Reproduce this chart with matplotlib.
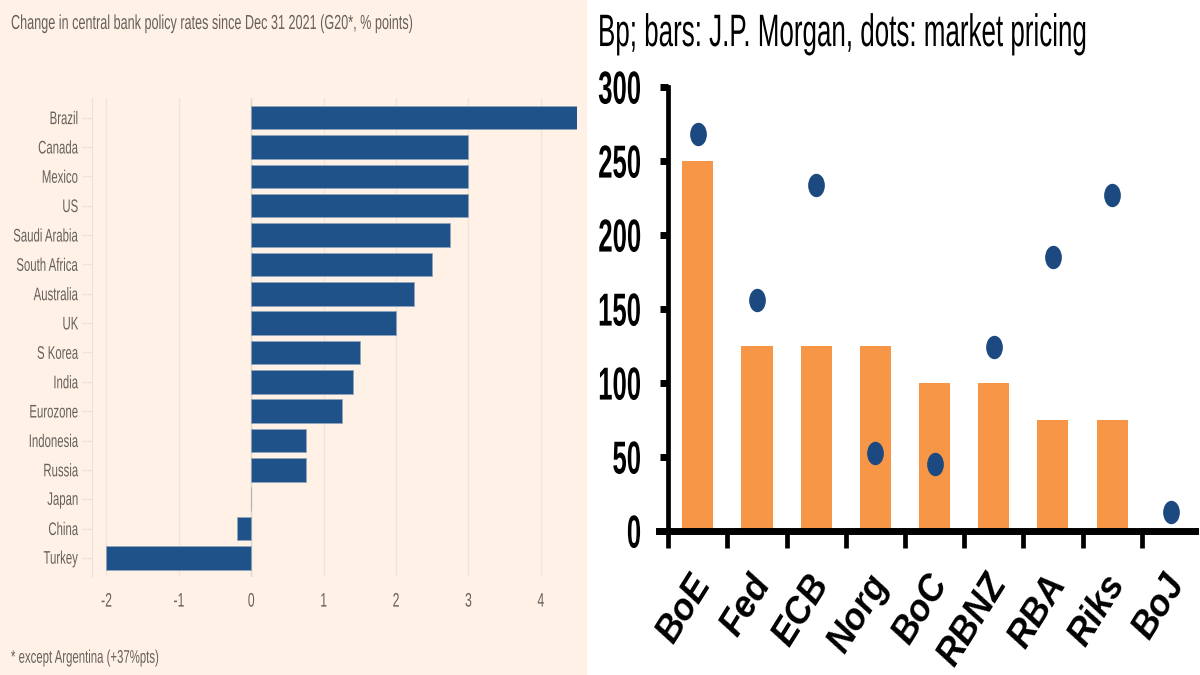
import matplotlib
matplotlib.use('Agg')
import matplotlib.pyplot as plt
from matplotlib.markers import MarkerStyle
from matplotlib.patches import Rectangle
from matplotlib.patheffects import AbstractPathEffect
from matplotlib.transforms import Affine2D, ScaledTranslation

# left panel data
countries = ['Brazil', 'Canada', 'Mexico', 'US', 'Saudi Arabia', 'South Africa', 'Australia', 'UK',
             'S Korea', 'India', 'Eurozone', 'Indonesia', 'Russia', 'Japan', 'China', 'Turkey']
rate_change = [4.5, 3, 3, 3, 2.75, 2.5, 2.25, 2, 1.5, 1.4, 1.25, 0.75, 0.75, 0, -0.2, -2]
left_ticks = [-2, -1, 0, 1, 2, 3, 4]

# right panel data
banks = ['BoE', 'Fed', 'ECB', 'Norg', 'BoC', 'RBNZ', 'RBA', 'Riks', 'BoJ']
jpm_bars = [250, 125, 125, 125, 100, 100, 75, 75, 0]
market_dots = [268, 156, 234, 53, 45, 124, 185, 227, 13]
right_ticks = [0, 50, 100, 150, 200, 250, 300]

W, H = 1200, 675
FONT = 'Liberation Sans'


# the source picture is squashed sideways, so draw the glyphs taller to get the same look
class TallText(AbstractPathEffect):
    def __init__(self, sy):
        super().__init__()
        self.sy = sy

    def draw_path(self, renderer, gc, tpath, affine, rgbFace=None):
        box = tpath.get_extents()
        mid = (box.y0 + box.y1) / 2
        stretch = Affine2D().translate(0, -mid).scale(1, self.sy).translate(0, mid)
        renderer.draw_path(gc, tpath, stretch + affine, rgbFace)


def px_axes(fig, x0, y0, x1, y1):
    return fig.add_axes([x0 / W, 1 - y1 / H, (x1 - x0) / W, (y1 - y0) / H])


fig = plt.figure(figsize=(12, 6.75), dpi=100, facecolor='white')
fig.add_artist(Rectangle((0, 0), 586 / W, 1, transform=fig.transFigure, color='#fff1e5', zorder=0))

# FT chart
ax = px_axes(fig, 92, 98, 577, 577)
ax.patch.set_alpha(0)
ypos = list(range(len(countries)))
ax.barh(ypos, rate_change, height=0.8, color='#1f5288', edgecolor='#8fa6bd', linewidth=0.5, zorder=3)
ax.set_xlim(-2.2, 4.5)
ax.set_ylim(15.65, -0.67)
ax.set_yticks(ypos)
ax.set_yticklabels(countries, family=FONT, fontsize=8.2, color='#66605c')
ax.set_xticks(left_ticks)
ax.set_xticklabels([str(t) for t in left_ticks], family=FONT, fontsize=8.8, color='#66605c')
ax.tick_params(axis='y', length=7.5, width=1, color='#ece3da', pad=2.5)
ax.tick_params(axis='x', length=0, pad=13)
ax.grid(axis='x', color='#efe6dc', linewidth=1, zorder=1)
ax.axvline(0, color='#e3dad1', linewidth=1, zorder=2)
for s in ['top', 'right', 'bottom']:
    ax.spines[s].set_visible(False)
ax.spines['left'].set_color('#e9e0d7')
for lab in ax.get_yticklabels() + ax.get_xticklabels():
    lab.set_path_effects([TallText(1.6)])

fig.text(11 / W, 1 - 24 / H, 'Change in central bank policy rates since Dec 31 2021 (G20*, % points)',
         family=FONT, fontsize=9.1, color='#66605c', va='center', path_effects=[TallText(1.6)])
fig.text(11 / W, 1 - 658 / H, '* except Argentina (+37%pts)',
         family=FONT, fontsize=8.2, color='#66605c', va='center', path_effects=[TallText(1.6)])

# J.P. Morgan chart
ax2 = px_axes(fig, 659, 87, 1195, 531)
ax2.patch.set_alpha(0)
xpos = list(range(len(banks)))
ax2.bar(xpos, jpm_bars, width=0.525, color='#f79646', zorder=2)
dot = MarkerStyle('o', transform=Affine2D().scale(1, 1.4))
ax2.scatter(xpos, market_dots, marker=dot, s=145, color='#1c4a80', linewidths=0, zorder=3, clip_on=False)
ax2.set_xlim(-0.655, 8.4)
ax2.set_ylim(0, 300)
ax2.spines['left'].set_position(('data', -0.5))
ax2.spines['left'].set_linewidth(3.4)
ax2.spines['bottom'].set_linewidth(5)
for s in ['top', 'right']:
    ax2.spines[s].set_visible(False)
ax2.set_yticks(right_ticks)
ax2.set_yticklabels([str(t) for t in right_ticks], family=FONT, fontweight='bold', fontsize=18.5, color='black')
for lab in ax2.get_yticklabels():
    lab.set_path_effects([TallText(1.8)])
ax2.tick_params(axis='y', length=5.5, width=5, pad=14)
ax2.set_xticks([i - 0.5 for i in range(len(banks))])
ax2.set_xticklabels([])
ax2.tick_params(axis='x', which='major', length=12, width=3.4)
ax2.set_xticks(xpos, minor=True)
ax2.set_xticklabels(banks, minor=True, family=FONT, fontweight='bold', fontstyle='italic',
                    fontsize=26, rotation=58, ha='right', va='center', rotation_mode='anchor')
ax2.tick_params(axis='x', which='minor', length=0, pad=34)
shift = ScaledTranslation(6 / 100, 0, fig.dpi_scale_trans)
for lab in ax2.get_xticklabels(minor=True):
    lab.set_transform(lab.get_transform() + shift)

fig.text(598 / W, 1 - 34 / H, 'Bp; bars: J.P. Morgan, dots: market pricing',
         family=FONT, fontsize=18.7, color='black', va='center', path_effects=[TallText(1.75)])

fig.savefig('out.png', dpi=100)
